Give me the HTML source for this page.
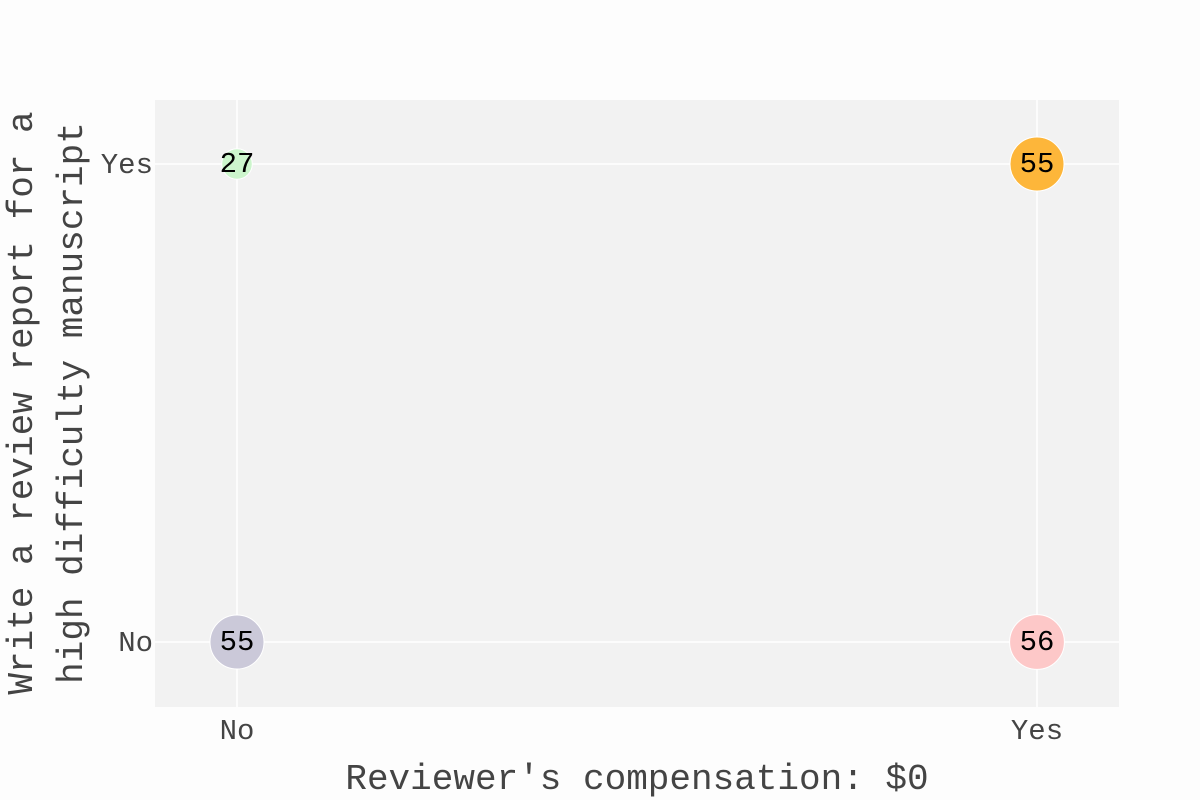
<!DOCTYPE html>
<html><head><meta charset="utf-8"><style>
body{margin:0;background:#fdfdfd;}
svg{display:block;font-family:"Liberation Mono",monospace;}
</style></head><body>
<svg id="chart" width="1200" height="800">
<rect x="0" y="0" width="1200" height="800" fill="#fdfdfd"/>
<rect x="155" y="100" width="964" height="607" fill="#f2f2f2"/>
<g id="grid"></g><g id="marks"></g><g id="ticks"></g>
<text x="637" y="789" font-size="36" text-anchor="middle" fill="#444">Reviewer's compensation: $0</text>
<text transform="translate(32,403) rotate(-90)" font-size="36" text-anchor="middle" fill="#444"><tspan x="0" dy="0">Write a review report for a</tspan><tspan x="0" dy="50">high difficulty manuscript</tspan></text>
</svg>
<script>
const xCats=["No","Yes"];
const yCats=["No","Yes"];
const pointX=["No","Yes","No","Yes"];
const pointY=["Yes","Yes","No","No"];
const pointValues=[27,55,55,56];
const pointColors=["#ccf5cc","#fdb63a","#cbc9d9","#fdc8c8"];
const NS="http://www.w3.org/2000/svg";
const xs=c=>237+xCats.indexOf(c)*800;
const ys=c=>642-yCats.indexOf(c)*478;
const rs=v=>27*Math.pow(v/55,0.8);
function mk(tag,attrs,parent){const e=document.createElementNS(NS,tag);for(const k in attrs)e.setAttribute(k,attrs[k]);document.getElementById(parent).appendChild(e);return e;}
xCats.forEach(c=>{
 const l=mk('line',{x1:xs(c),x2:xs(c),y1:100,y2:707,stroke:'#fff','stroke-width':1.5},'grid');
 
 
 const t=mk('text',{x:xs(c),y:739,'font-size':29,'text-anchor':'middle',fill:'#444'},'ticks');t.textContent=c;
 
 
});
yCats.forEach(c=>{
 const l=mk('line',{x1:155,x2:1119,y1:ys(c),y2:ys(c),stroke:'#fff','stroke-width':1.5},'grid');
 
 
 const t=mk('text',{x:153,y:ys(c)+9,'font-size':29,'text-anchor':'end',fill:'#444'},'ticks');t.textContent=c;
 
 
});
pointValues.forEach((v,i)=>{
 const c=mk('circle',{cx:xs(pointX[i]),cy:ys(pointY[i]),r:rs(v),fill:pointColors[i],stroke:'#fff','stroke-width':1},'marks');
 
 
 const t=mk('text',{x:xs(pointX[i]),y:ys(pointY[i])+8,'font-size':29,'text-anchor':'middle',fill:'#000'},'marks');t.textContent=v;
 
 
});
</script>
</body></html>
